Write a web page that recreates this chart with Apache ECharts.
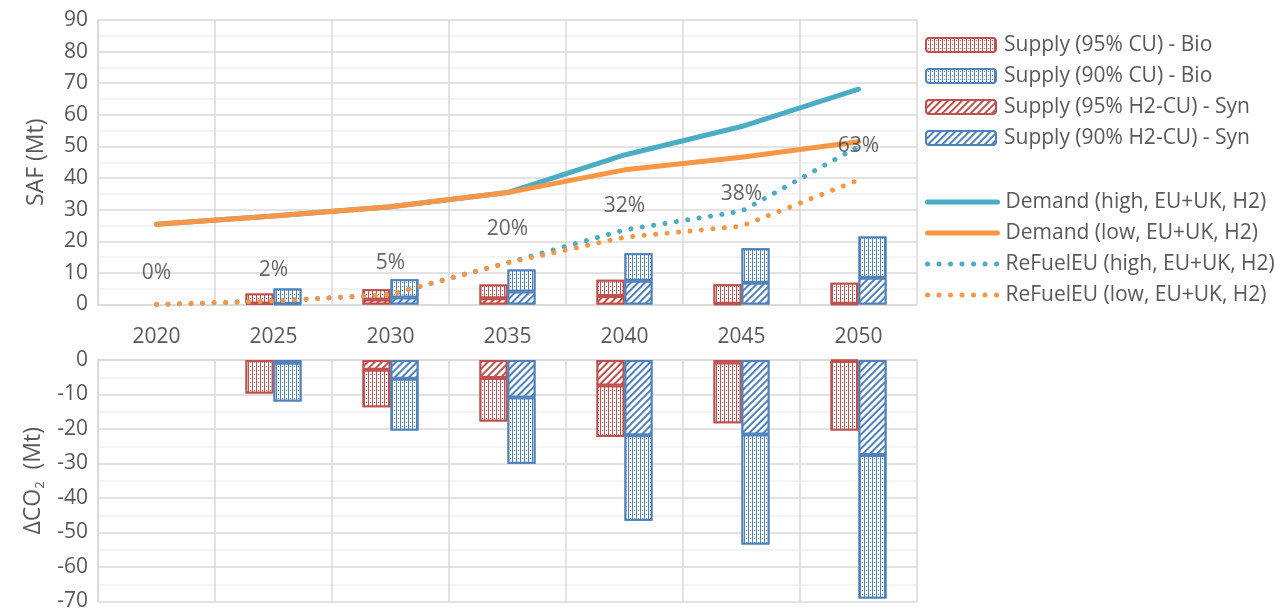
<!DOCTYPE html>
<html>
<head>
<meta charset="utf-8">
<script src="https://cdn.jsdelivr.net/npm/echarts@6/dist/echarts.min.js"></script>
<style>html,body{margin:0;padding:0;background:#fff;}#c{width:1275px;height:612px;}</style>
</head>
<body>
<div id="c"></div>
<script>
// ---- data ----
const years = ['2020','2025','2030','2035','2040','2045','2050'];
// SAF supply (Mt), stacked: Syn first, Bio on top
const safSyn95 = [0, 0.3, 1.6, 2.0, 2.7, 0.2, 0.2];
const safBio95 = [0, 3.2, 3.2, 4.3, 5.1, 6.2, 6.7];
const safSyn90 = [0, 0.2, 2.2, 4.1, 7.5, 6.9, 8.5];
const safBio90 = [0, 4.9, 5.8, 7.0, 8.7, 10.9, 13.0];
// Demand and ReFuelEU (Mt)
const demandHigh = [25.4, 28.0, 30.9, 35.4, 47.3, 56.3, 68.1];
const demandLow  = [25.4, 28.0, 30.9, 35.4, 42.6, 46.6, 51.5];
const refuelHigh = [0, 1.1, 3.2, 13.2, 23.6, 29.5, 50.0];
const refuelLow  = [0, 1.1, 3.2, 13.2, 21.3, 24.8, 39.4];
// percentage labels and their heights (Mt)
const pctLabels = ['0%','2%','5%','20%','32%','38%','63%'];
const pctLabelY = [10, 11, 13, 24, 31, 35, 50];
// CO2 change (Mt)
const co2Syn95 = [0, 0, -2.8, -5.2, -7.4, -0.7, -0.3];
const co2Bio95 = [0, -9.7, -10.9, -12.6, -14.9, -17.6, -20.1];
const co2Syn90 = [0, -0.8, -5.4, -10.9, -21.8, -21.6, -27.5];
const co2Bio90 = [0, -11.2, -15.0, -19.2, -24.8, -31.9, -41.6];

const RED = '#C0504D', BLUE = '#4F81BD', TEAL = '#4BACC6', ORANGE = '#F79646';
const GRID = '#d9d9d9', MINOR = '#efefef', TXT = '#595959';
const FONT = 'Open Sans';

function dotDecal(c) {
  return {symbol:'rect', symbolSize:1, color:c, backgroundColor:'#ffffff',
          dashArrayX:[[1,3],[1,3],[1,3],[1,1]], dashArrayY:[1,0]};
}
function stripeDecal(c) {
  return {symbol:'rect', symbolSize:1, color:c, backgroundColor:'#ffffff',
          dashArrayX:[1,0], dashArrayY:[2,2.5], rotation:-Math.PI/4};
}
const noZero = arr => arr.map(v => v === 0 ? null : v);
function bar(name, data, grid, stack, color, decal) {
  return {
    name, type:'bar', data:noZero(data), xAxisIndex:grid, yAxisIndex:grid, stack,
    barWidth:28, barGap:'0%',
    itemStyle:{color:color, borderColor:color, borderWidth:2, decal:decal},
    emphasis:{disabled:true}, z:2
  };
}
const N1 = 'Supply (95% CU) - Bio', N2 = 'Supply (90% CU) - Bio',
      N3 = 'Supply (95% H2-CU) - Syn', N4 = 'Supply (90% H2-CU) - Syn';
const L1 = 'Demand (high, EU+UK, H2)', L2 = 'Demand (low, EU+UK, H2)',
      L3 = 'ReFuelEU (high, EU+UK, H2)', L4 = 'ReFuelEU (low, EU+UK, H2)';

function line(name, data, color, dotted) {
  return {
    name, type:'line', data, xAxisIndex:0, yAxisIndex:0, symbol:'none',
    lineStyle: dotted ? {color, width:5, type:[0.01, 11.5], cap:'round'}
                      : {color, width:5, cap:'round', join:'round'},
    itemStyle:{color}, emphasis:{disabled:true}, z:5
  };
}
// Syn series come first in each stack so they sit next to the zero line
const series = [
  bar(N3, safSyn95, 0, 'r0', RED, stripeDecal(RED)),
  bar(N1, safBio95, 0, 'r0', RED, dotDecal(RED)),
  bar(N4, safSyn90, 0, 'b0', BLUE, stripeDecal(BLUE)),
  bar(N2, safBio90, 0, 'b0', BLUE, dotDecal(BLUE)),
  bar(N3, co2Syn95, 1, 'r1', RED, stripeDecal(RED)),
  bar(N1, co2Bio95, 1, 'r1', RED, dotDecal(RED)),
  bar(N4, co2Syn90, 1, 'b1', BLUE, stripeDecal(BLUE)),
  bar(N2, co2Bio90, 1, 'b1', BLUE, dotDecal(BLUE)),
  line(L1, demandHigh, TEAL, false),
  line(L2, demandLow, ORANGE, false),
  line(L3, refuelHigh, TEAL, true),
  line(L4, refuelLow, ORANGE, true),
  {
    name:'pct', type:'scatter', xAxisIndex:0, yAxisIndex:0, symbolSize:0,
    data: pctLabelY.map((v,i)=>({value:v, label:{formatter:pctLabels[i]}})),
    label:{show:true, position:'inside', fontFamily:FONT, fontSize:21, color:'#404040'},
    z:10, silent:true
  }
];

const legendText = {fontFamily:FONT, fontSize:21, color:TXT, lineHeight:24, padding:[0,0,0,3]};
function xAxis(grid, labels) {
  return {
    type:'category', data:years, gridIndex:grid,
    axisLine:{show:true, onZero:true, lineStyle:{color:GRID, width:1.5}},
    axisTick:{show:false},
    axisLabel:{show:labels, fontFamily:FONT, fontSize:21, color:TXT, margin:22},
    splitLine:{show:true, lineStyle:{color:GRID, width:1.5}}
  };
}
function yAxis(grid, min, max, name) {
  return {
    type:'value', gridIndex:grid, min, max, interval:10,
    axisLine:{show:true, lineStyle:{color:GRID, width:1.5}},
    axisTick:{show:false},
    axisLabel:{fontFamily:FONT, fontSize:21, color:TXT, margin:10},
    splitLine:{lineStyle:{color:GRID, width:1.5}},
    minorTick:{show:false, splitNumber:2},
    minorSplitLine:{show:true, lineStyle:{color:MINOR, width:1.5}},
    name, nameLocation:'middle', nameGap:50,
    nameTextStyle:{fontFamily:FONT, fontSize:23, color:TXT,
      rich:{a:{fontFamily:FONT, fontSize:23, color:TXT},
            s:{fontFamily:FONT, fontSize:13, color:TXT, padding:[12,0,0,0]}}}
  };
}

const chart = echarts.init(document.getElementById('c'), null, {renderer:'canvas'});
chart.setOption({
  animation:false,
  backgroundColor:'#ffffff',
  textStyle:{fontFamily:FONT},
  grid:[
    {left:98, width:819, top:20, height:284.5},
    {left:98, width:819, top:360, height:246}
  ],
  legend:[
    {data:[N1,N2,N3,N4], orient:'vertical', left:920, top:28,
     itemWidth:70, itemHeight:14, itemGap:7, textStyle:legendText, selectedMode:false},
    {data:[L1,L2,L3,L4], orient:'vertical', left:920, top:185,
     itemWidth:70, itemHeight:14, itemGap:7, textStyle:legendText, selectedMode:false,
     itemStyle:{opacity:0}, lineStyle:{width:5, cap:'round'}}
  ],
  xAxis:[xAxis(0, true), xAxis(1, false)],
  yAxis:[yAxis(0, 0, 90, 'SAF (Mt)'), yAxis(1, -70, 0, '{a|ΔCO}{s|2}{a|  (Mt)}')],
  series: series
});
</script>
</body>
</html>
